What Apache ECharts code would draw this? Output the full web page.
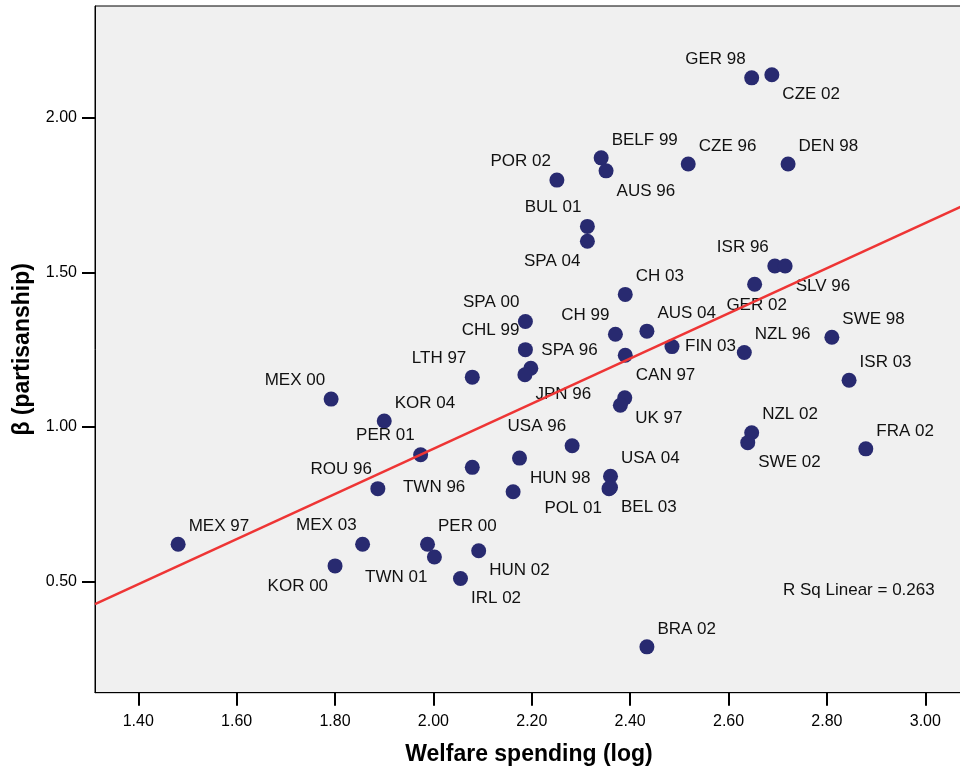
<!DOCTYPE html>
<html>
<head>
<meta charset="utf-8">
<script src="https://cdn.jsdelivr.net/npm/echarts@6/dist/echarts.min.js"></script>
<style>
  html, body { margin: 0; padding: 0; background: #fff; }
  #main { width: 960px; height: 771px; }
</style>
</head>
<body>
<div id="main"></div>
<script>
// country-year labels ('' = point without a visible label)
var countries = ['GER 98', 'CZE 02', 'BELF 99', 'AUS 96', 'CZE 96', 'DEN 98', 'POR 02', 'BUL 01', 'SPA 04',
    'ISR 96', 'SLV 96', 'GER 02', 'CH 03', 'SPA 00', 'CH 99', 'AUS 04', 'SWE 98', 'NZL 96', 'FIN 03',
    'CHL 99', 'SPA 96', 'JPN 96', 'CAN 97', 'LTH 97', 'ISR 03', 'MEX 00', 'UK 97', '', 'KOR 04',
    'NZL 02', 'SWE 02', 'FRA 02', 'USA 96', 'PER 01', 'HUN 98', 'TWN 96', 'USA 04', 'BEL 03', 'POL 01',
    'ROU 96', '', 'MEX 03', 'KOR 00', 'PER 00', 'TWN 01', 'HUN 02', 'IRL 02', 'MEX 97', 'BRA 02'];
var welfare = [2.647, 2.688, 2.341, 2.351, 2.518, 2.721, 2.251, 2.313, 2.313,
    2.694, 2.715, 2.653, 2.390, 2.187, 2.370, 2.434, 2.810, 2.632, 2.485,
    2.187, 2.198, 2.186, 2.390, 2.079, 2.845, 1.792, 2.389, 2.380, 1.900,
    2.647, 2.639, 2.879, 2.282, 1.974, 2.175, 2.079, 2.360, 2.360, 2.357,
    1.887, 2.162, 1.856, 1.800, 1.988, 2.002, 2.092, 2.055, 1.481, 2.434];
var beta = [2.130, 2.140, 1.871, 1.829, 1.851, 1.851, 1.799, 1.649, 1.601,
    1.521, 1.521, 1.462, 1.429, 1.341, 1.300, 1.310, 1.290, 1.241, 1.260,
    1.250, 1.190, 1.169, 1.232, 1.161, 1.151, 1.090, 1.094, 1.070, 1.019,
    0.981, 0.949, 0.929, 0.939, 0.910, 0.899, 0.869, 0.840, 0.804, 0.800,
    0.800, 0.790, 0.620, 0.550, 0.620, 0.579, 0.599, 0.509, 0.620, 0.288];
// where each label sits around its point
var labelPlace = ['tl', 'br', 'tr', 'br', 'tr', 'tr', 'tl', 'tl', 'bl',
    'tl', 'br', 'b', 'tr', 'tl', 'tl', 'tr', 'tr', 'tr', 'r',
    'tl', 'tr', 'br', 'br', 'tl', 'tr', 'tl', 'br', 'br', 'tr',
    'tr', 'br', 'tr', 'tl', 'tl', 'br', 'bl', 'tr', 'br', 'bl',
    'tl', 'br', 'tl', 'bl', 'tr', 'bl', 'br', 'br', 'tr', 'tr'];

// fit line, read at the left and right edges of the plot
var fitX = [1.312, 3.0766];
var fitY = [0.426, 1.716];

var xTicks = [1.4, 1.6, 1.8, 2.0, 2.2, 2.4, 2.6, 2.8, 3.0];
var yTicks = [0.5, 1.0, 1.5, 2.0];
var rSqText = 'R Sq Linear = 0.263';

var placeStyle = {
    tl: { align: 'right', offset: [-6, -19] },
    tr: { align: 'left', offset: [10.5, -18] },
    bl: { align: 'right', offset: [-7, 20] },
    br: { align: 'left', offset: [10.5, 20] },
    r: { align: 'left', offset: [13, 0] },
    b: { align: 'center', offset: [2, 21] }
};

var FONT = '"Liberation Sans", Arial, sans-serif';

var points = welfare.map(function (x, i) {
    var p = placeStyle[labelPlace[i]];
    return {
        value: [x, beta[i]],
        label: {
            show: countries[i] !== '',
            formatter: countries[i],
            position: 'inside',
            align: p.align,
            verticalAlign: 'middle',
            offset: p.offset
        }
    };
});

var myChart = echarts.init(document.getElementById('main'));

var option = {
    animation: false,
    grid: {
        left: 95, top: 6, width: 868, height: 686.7,
        outerBoundsMode: 'none',
        show: true, backgroundColor: '#f0f0f0', borderColor: '#000', borderWidth: 1
    },
    xAxis: {
        type: 'value', min: 1.312, max: 3.0766,
        name: 'Welfare spending (log)', nameLocation: 'middle', nameGap: 50,
        nameTextStyle: { fontFamily: FONT, fontSize: 23, fontWeight: 'bold', color: '#000' },
        axisLine: { show: true, lineStyle: { color: '#000', width: 1 } },
        axisTick: { show: true, length: 13, customValues: xTicks, lineStyle: { color: '#000', width: 2 } },
        axisLabel: {
            customValues: xTicks, margin: 21, color: '#000', fontFamily: FONT, fontSize: 16,
            formatter: function (v) { return v.toFixed(2); }
        },
        splitLine: { show: false }
    },
    yAxis: {
        type: 'value', min: 0.1395, max: 2.3626,
        name: 'β (partisanship)', nameLocation: 'middle', nameGap: 61, nameRotate: 90,
        nameTextStyle: { fontFamily: FONT, fontSize: 23, fontWeight: 'bold', color: '#000' },
        axisLine: { show: true, lineStyle: { color: '#000', width: 1 } },
        axisTick: { show: true, length: 13, customValues: yTicks, lineStyle: { color: '#000', width: 2 } },
        axisLabel: {
            customValues: yTicks, margin: 18, color: '#000', fontFamily: FONT, fontSize: 16,
            formatter: function (v) { return v.toFixed(2); }
        },
        splitLine: { show: false }
    },
    graphic: [{
        type: 'text', left: 783, top: 582,
        style: { text: rSqText, fill: '#111', font: '17px ' + FONT }
    }],
    series: [{
        type: 'scatter',
        symbolSize: 15,
        itemStyle: { color: '#282a70', opacity: 1 },
        label: { color: '#111', fontFamily: FONT, fontSize: 17 },
        data: points,
        z: 2
    }, {
        type: 'line',
        data: fitX.map(function (x, i) { return [x, fitY[i]]; }),
        symbol: 'none',
        lineStyle: { color: '#ee3535', width: 2.5 },
        clip: true,
        z: 3
    }]
};

myChart.setOption(option);
</script>
</body>
</html>
